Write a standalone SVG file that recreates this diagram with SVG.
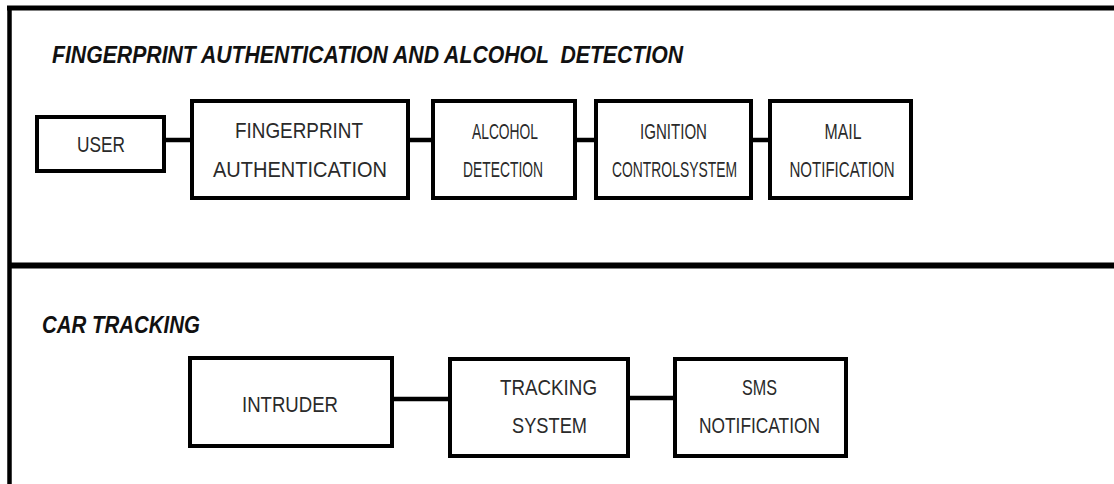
<svg xmlns="http://www.w3.org/2000/svg" width="1114" height="484" viewBox="0 0 1114 484">
<style>
.box{fill:#fff;stroke:#000;stroke-width:4}
.frame{stroke:#000;fill:none}
.conn{stroke:#000;stroke-width:4.5;fill:none}
.lbl{font-family:"Liberation Sans Narrow","Liberation Sans",Arial,sans-serif;font-size:22.5px;fill:#2a2a2a;text-anchor:middle}
.head{font-family:"Liberation Sans",Arial,sans-serif;font-size:23.5px;font-weight:bold;font-style:italic;fill:#111;white-space:pre}
</style>
<rect width="1114" height="484" fill="#fff"/>
<g id="frame">
<line class="frame" x1="7" y1="8" x2="1114" y2="8" stroke-width="5"/>
<line class="frame" x1="9.5" y1="6" x2="9.5" y2="484" stroke-width="4.5"/>
<line class="frame" x1="9" y1="265.5" x2="1114" y2="265.5" stroke-width="6"/>
</g>
<text class="head" x="52" y="63" textLength="631" lengthAdjust="spacingAndGlyphs" xml:space="preserve">FINGERPRINT AUTHENTICATION AND ALCOHOL  DETECTION</text>
<text class="head" x="42" y="333" textLength="158" lengthAdjust="spacingAndGlyphs">CAR TRACKING</text>
<g id="connectors">
<line class="conn" x1="166" y1="140" x2="190" y2="140"/>
<line class="conn" x1="410" y1="140" x2="431" y2="140"/>
<line class="conn" x1="577" y1="140" x2="594" y2="140"/>
<line class="conn" x1="753" y1="140" x2="768" y2="140"/>
<line class="conn" x1="394" y1="399" x2="448" y2="399"/>
<line class="conn" x1="630" y1="398" x2="673" y2="398"/>
</g>
<g id="user">
<rect class="box" x="37" y="117" width="127" height="54"/>
<text class="lbl" x="101" y="152" textLength="48" lengthAdjust="spacingAndGlyphs">USER</text>
</g>
<g id="fingerprint">
<rect class="box" x="192" y="101" width="216" height="97"/>
<text class="lbl" x="299" y="138" textLength="128" lengthAdjust="spacingAndGlyphs">FINGERPRINT</text>
<text class="lbl" x="300" y="177" textLength="174" lengthAdjust="spacingAndGlyphs">AUTHENTICATION</text>
</g>
<g id="alcohol">
<rect class="box" x="433" y="101" width="142" height="97"/>
<text class="lbl" x="505" y="139" textLength="66" lengthAdjust="spacingAndGlyphs">ALCOHOL</text>
<text class="lbl" x="503" y="177" textLength="80" lengthAdjust="spacingAndGlyphs">DETECTION</text>
</g>
<g id="ignition">
<rect class="box" x="596" y="101" width="155" height="97"/>
<text class="lbl" x="673.5" y="139" textLength="67" lengthAdjust="spacingAndGlyphs">IGNITION</text>
<text class="lbl" x="674.5" y="177" textLength="125" lengthAdjust="spacingAndGlyphs">CONTROLSYSTEM</text>
</g>
<g id="mail">
<rect class="box" x="770" y="101" width="141" height="97"/>
<text class="lbl" x="843" y="139" textLength="37" lengthAdjust="spacingAndGlyphs">MAIL</text>
<text class="lbl" x="842" y="177" textLength="105" lengthAdjust="spacingAndGlyphs">NOTIFICATION</text>
</g>
<g id="intruder">
<rect class="box" x="190" y="358" width="202" height="88"/>
<text class="lbl" x="290" y="412" textLength="96" lengthAdjust="spacingAndGlyphs">INTRUDER</text>
</g>
<g id="tracking">
<rect class="box" x="450" y="359" width="178" height="97"/>
<text class="lbl" x="548.5" y="395" textLength="97" lengthAdjust="spacingAndGlyphs">TRACKING</text>
<text class="lbl" x="549.5" y="433" textLength="75" lengthAdjust="spacingAndGlyphs">SYSTEM</text>
</g>
<g id="sms">
<rect class="box" x="675" y="359" width="171" height="97"/>
<text class="lbl" x="759.5" y="395" textLength="35" lengthAdjust="spacingAndGlyphs">SMS</text>
<text class="lbl" x="759.5" y="433" textLength="121" lengthAdjust="spacingAndGlyphs">NOTIFICATION</text>
</g>
</svg>
